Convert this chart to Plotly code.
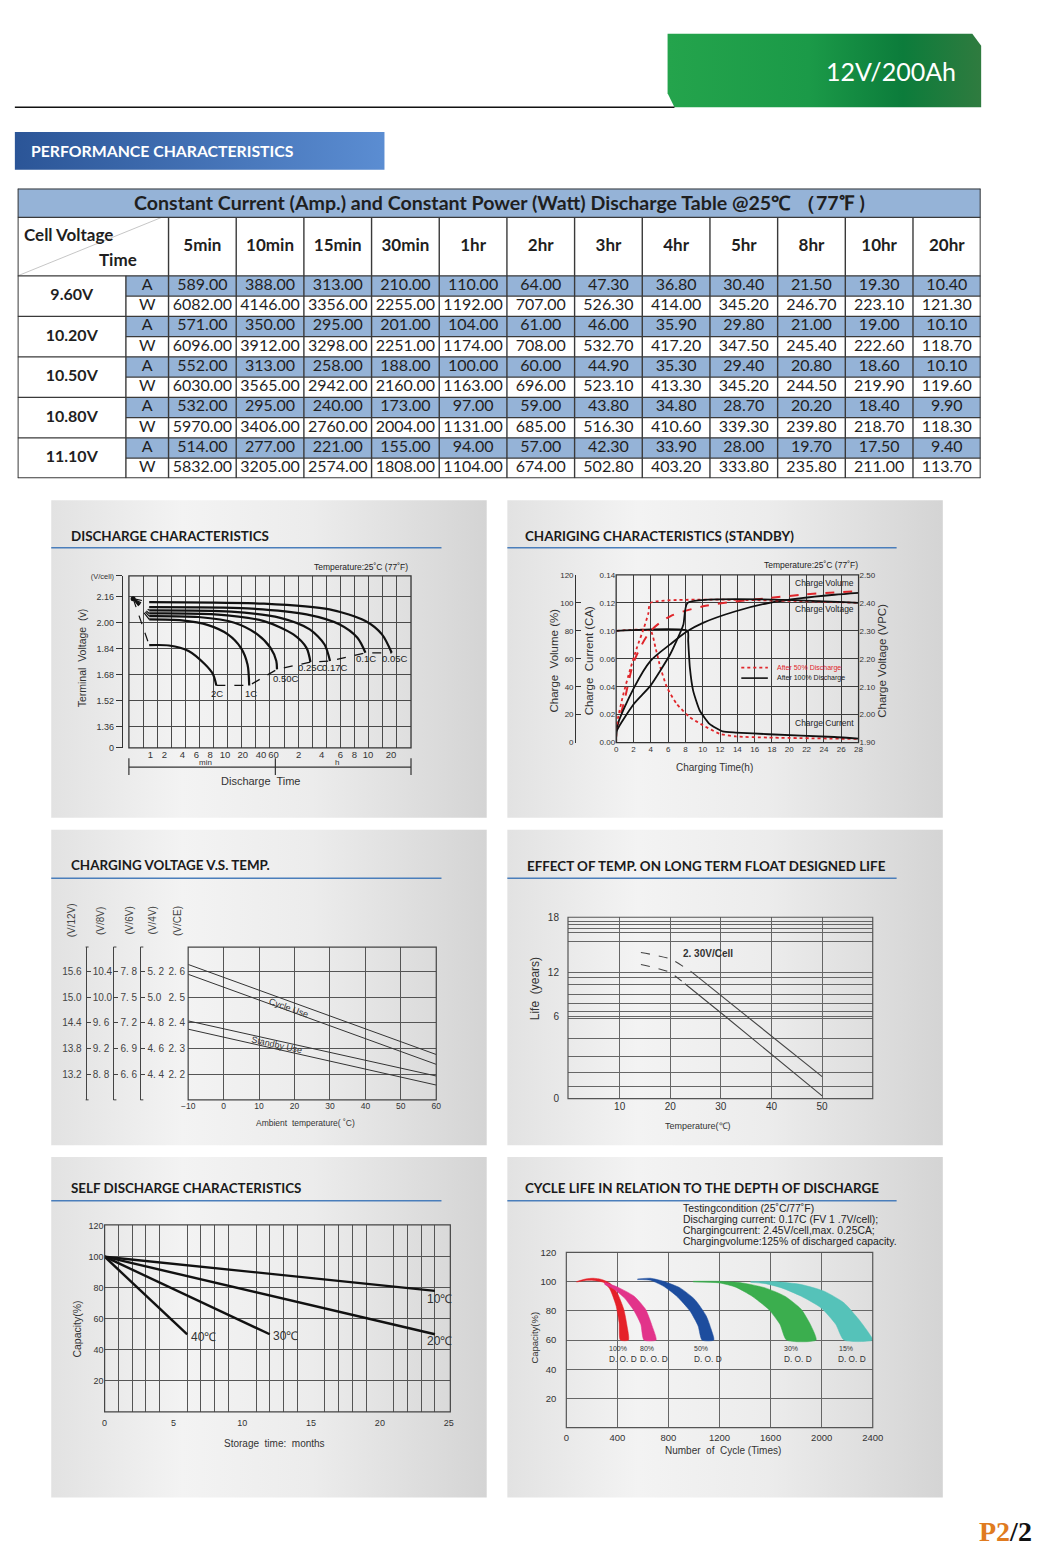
import numpy as np
import plotly.graph_objects as go

W, H = 1059, 1566
OFF = 0
WF, HF = W, H

# ---------------- Table data ----------------
TIME_COLS = ["5min", "10min", "15min", "30min", "1hr", "2hr", "3hr", "4hr", "5hr", "8hr", "10hr", "20hr"]
CELL_VOLTAGES = ["9.60V", "10.20V", "10.50V", "10.80V", "11.10V"]
AMP_9_60 = [589.00, 388.00, 313.00, 210.00, 110.00, 64.00, 47.30, 36.80, 30.40, 21.50, 19.30, 10.40]
WATT_9_60 = [6082.00, 4146.00, 3356.00, 2255.00, 1192.00, 707.00, 526.30, 414.00, 345.20, 246.70, 223.10, 121.30]
AMP_10_20 = [571.00, 350.00, 295.00, 201.00, 104.00, 61.00, 46.00, 35.90, 29.80, 21.00, 19.00, 10.10]
WATT_10_20 = [6096.00, 3912.00, 3298.00, 2251.00, 1174.00, 708.00, 532.70, 417.20, 347.50, 245.40, 222.60, 118.70]
AMP_10_50 = [552.00, 313.00, 258.00, 188.00, 100.00, 60.00, 44.90, 35.30, 29.40, 20.80, 18.60, 10.10]
WATT_10_50 = [6030.00, 3565.00, 2942.00, 2160.00, 1163.00, 696.00, 523.10, 413.30, 345.20, 244.50, 219.90, 119.60]
AMP_10_80 = [532.00, 295.00, 240.00, 173.00, 97.00, 59.00, 43.80, 34.80, 28.70, 20.20, 18.40, 9.90]
WATT_10_80 = [5970.00, 3406.00, 2760.00, 2004.00, 1131.00, 685.00, 516.30, 410.60, 339.30, 239.80, 218.70, 118.30]
AMP_11_10 = [514.00, 277.00, 221.00, 155.00, 94.00, 57.00, 42.30, 33.90, 28.00, 19.70, 17.50, 9.40]
WATT_11_10 = [5832.00, 3205.00, 2574.00, 1808.00, 1104.00, 674.00, 502.80, 403.20, 333.80, 235.80, 211.00, 113.70]

# ---------------- Discharge characteristics ----------------
DIS_TICK_TEXT = ["1", "2", "4", "6", "8", "10", "20", "40", "60", "2", "4", "6", "8", "10", "20"]
DIS_TICK_POS = [1.53, 2.51, 3.79, 4.79, 5.76, 6.81, 8.08, 9.36, 10.25, 12.03, 13.66, 15.0, 15.98, 16.95, 18.58]
DIS_V_TICKS = [1.36, 1.52, 1.68, 1.84, 2.00, 2.16]
DIS_RATES = ["2C", "1C", "0.50C", "0.25C", "0.17C", "0.1C", "0.05C"]
DIS_2C_T = [1.44, 2.84, 4.23, 5.39, 5.97, 6.20]
DIS_2C_V = [1.860, 1.858, 1.824, 1.742, 1.680, 1.612]
DIS_1C_T = [1.44, 3.76, 5.62, 7.02, 7.94, 8.41, 8.53]
DIS_1C_V = [2.018, 2.012, 1.983, 1.926, 1.843, 1.741, 1.612]
DIS_050C_T = [1.44, 4.93, 7.48, 9.11, 10.04, 10.45, 10.50]
DIS_050C_V = [2.039, 2.033, 1.998, 1.926, 1.843, 1.762, 1.711]
DIS_025C_T = [1.44, 6.09, 9.57, 11.66, 12.59, 12.87]
DIS_025C_V = [2.055, 2.049, 2.008, 1.926, 1.843, 1.756]
DIS_017C_T = [1.44, 7.25, 10.73, 12.82, 13.87, 14.26]
DIS_017C_V = [2.074, 2.066, 2.028, 1.957, 1.864, 1.762]
DIS_01C_T = [1.44, 8.41, 12.59, 14.91, 16.20, 16.77]
DIS_01C_V = [2.094, 2.086, 2.049, 1.988, 1.905, 1.813]
DIS_005C_T = [1.44, 9.57, 14.22, 16.77, 17.94, 18.63]
DIS_005C_V = [2.125, 2.115, 2.080, 2.008, 1.926, 1.813]
DIS_ORIGIN = (0.3, 2.146)

# ---------------- Charging characteristics ----------------
CUR_TICK_TEXT = ["0.00", "0.02", "0.04", "0.06", "0.10", "0.12", "0.14"]
CHG_RED_CUR_T = [0, 3.97, 4.54, 5.11, 5.86, 7.0, 8.51, 10.03, 11.92, 13.81, 17.6, 28]
CHG_RED_CUR = [4.0, 4.0, 3.40, 2.69, 1.98, 1.38, 0.91, 0.62, 0.32, 0.22, 0.18, 0.13]
CHG_BLK_CUR_T = [0, 8.25, 8.32, 8.51, 8.89, 9.65, 10.78, 12.3, 13.81, 17.6, 25.2, 28]
CHG_BLK_CUR = [4.0, 4.0, 3.63, 2.69, 1.86, 1.15, 0.67, 0.40, 0.36, 0.30, 0.20, 0.14]
CHG_RED_VOLT_T = [0, 0.1, 0.8, 1.6, 2.4, 3.2, 3.7, 3.97, 28]
CHG_RED_VOLT = [1.90, 1.97, 2.07, 2.16, 2.24, 2.31, 2.36, 2.40, 2.40]
CHG_BLK_VOLT_T = [0, 0.1, 2.08, 3.97, 6.24, 7.76, 8.25, 28]
CHG_BLK_VOLT = [1.90, 1.944, 2.04, 2.104, 2.216, 2.322, 2.40, 2.40]
CHG_RED_VOL_T = [0, 0.95, 2.08, 3.97, 6.24, 10.03, 13.81, 17.6, 21.4, 25.2, 28]
CHG_RED_VOL = [8.8, 30, 58.5, 79.8, 90.4, 97.5, 101, 103.4, 105.8, 107.5, 108.2]
CHG_BLK_VOL_T = [0, 0.08, 2.08, 3.97, 6.24, 8.25, 10.03, 13.81, 17.6, 21.4, 25.2, 28]
CHG_BLK_VOL = [0, 11.1, 39.5, 58.5, 70.3, 79.8, 85.7, 94, 99.9, 103.4, 105.8, 107.2]

# ---------------- Charging voltage vs temperature ----------------
TEMP_C = [-10, 60]
CYCLE_UPPER = [2.626, 2.278]
CYCLE_LOWER = [2.588, 2.240]
STANDBY_UPPER = [2.408, 2.195]
STANDBY_LOWER = [2.376, 2.160]
CE_TICKS = [2.2, 2.3, 2.4, 2.5, 2.6]
CE_TEXT = ["2. 2", "2. 3", "2. 4", "2. 5", "2. 6"]
V12_TEXT = ["13.2", "13.8", "14.4", "15.0", "15.6"]
V8_TEXT = ["8. 8", "9. 2", "9. 6", "10.0", "10.4"]
V6_TEXT = ["6. 6", "6. 9", "7. 2", "7. 5", "7. 8"]
V4_TEXT = ["4. 4", "4. 6", "4. 8", "5.0", "5. 2"]

# ---------------- Float life ----------------
LIFE_TICKS = [0, 6, 12, 18]
LIFE_TICK_POS = [0, 82.7, 126.7, 182.7]
LIFE_GRID_POS = [178.3, 175, 171, 167.7, 158.7, 122, 115, 105, 95.3, 87.3, 81, 61, 42.3, 26.7, 12]
FLOAT_UPPER_T = [14.2, 20.0, 24.2, 35.1, 50.0]
FLOAT_UPPER_L = [14.2, 13.5, 12.1, 6.0, 1.6]
FLOAT_LOWER_T = [14.2, 19.7, 22.9, 30.9, 50.0]
FLOAT_LOWER_L = [12.9, 12.1, 10.5, 6.0, 0.2]

# ---------------- Self discharge ----------------
SD_10C_M = [0, 24]
SD_10C = [100, 78]
SD_20C_M = [0, 24]
SD_20C = [100, 50]
SD_30C_M = [0, 12]
SD_30C = [100, 50]
SD_40C_M = [0, 6]
SD_40C = [100, 50]

# ---------------- Cycle life ----------------
DOD_LABELS = ["100%", "80%", "50%", "30%", "15%"]
RED_X = [80, 150, 210, 275, 340, 400, 450, 475, 487, 423, 413, 388, 340, 290, 210, 150, 80]
RED_Y = [100, 101.8, 102.3, 101.5, 99, 92, 81, 70, 60, 60, 72, 84, 95, 99.5, 100.8, 100.8, 99.7]
PINK_X = [300, 403, 531, 621, 672, 703, 608, 583, 531, 454, 377, 300]
PINK_Y = [99.5, 96.2, 90, 81, 69.7, 60, 60, 70.8, 79.9, 88.9, 94.6, 98]
BLUE_X = [557, 660, 762, 891, 1006, 1096, 1134, 1155, 1063, 1032, 968, 865, 762, 660, 557]
BLUE_Y = [101.8, 102.3, 100.2, 95.7, 87.8, 76.5, 67.5, 60, 60, 69.7, 79.9, 90, 96.8, 100.9, 101.4]
GREEN_X = [993, 1199, 1378, 1558, 1712, 1840, 1917, 1956, 1725, 1673, 1584, 1455, 1327, 1199, 993]
GREEN_Y = [100.2, 100.2, 99.1, 95.7, 90, 81, 69.7, 60, 60, 70.8, 81, 90, 96.2, 99.1, 99.8]
TEAL_X = [1443, 1635, 1840, 2020, 2174, 2290, 2366, 2400, 2174, 2110, 1994, 1840, 1686, 1558, 1443]
TEAL_Y = [100, 100, 98, 93.4, 85.5, 74.2, 65.2, 60, 60, 70.8, 82.1, 90, 95.7, 98.6, 99.5]

# =====================================================================
FONT = "Liberation Sans, Arial, sans-serif"
TFONT = "Lato, 'Open Sans', sans-serif"
TICK_FONT = dict(family=FONT, size=9, color="#333")
GRID_DARK = "#4a4a4a"
BLUE_CELL = "#95B3D7"


def dom_x(a, b):
    return [(a - OFF) / WF, (b - OFF) / WF]


def dom_y(t, b):
    return [1 - (b - OFF) / HF, 1 - (t - OFF) / HF]


def pos_x(a):
    return (a - OFF) / WF


fig = go.Figure()
shapes, annotations = [], []


def txt(x, y, s, size=10, color="#333", family=FONT, xanchor="center", yanchor="middle",
        angle=0, xref="x", yref="y"):
    annotations.append(dict(x=x, y=y, xref=xref, yref=yref, text=s, showarrow=False,
                            font=dict(size=size, color=color, family=family),
                            xanchor=xanchor, yanchor=yanchor, textangle=angle))


def pline(x0, y0, x1, y1, color="#333", width=1.0, dash="solid", xref="x", yref="y", layer="above"):
    shapes.append(dict(type="line", x0=x0, y0=y0, x1=x1, y1=y1, xref=xref, yref=yref,
                       line=dict(color=color, width=width, dash=dash), layer=layer))


def poly_gradient(xs, ys, stops):
    fig.add_trace(go.Scatter(x=xs, y=ys, mode="lines", fill="toself",
                             fillgradient=dict(type="horizontal", colorscale=stops),
                             line=dict(width=0), hoverinfo="skip", showlegend=False,
                             xaxis="x", yaxis="y"))


def frame(xa, ya, width=1.3, color="#333"):
    shapes.append(dict(type="rect", xref=f"{xa} domain", yref=f"{ya} domain", x0=0, x1=1, y0=0, y1=1,
                       line=dict(color=color, width=width), layer="above"))


def line_trace(x, y, xa, ya, color="#111", width=2, dash="solid", shape="spline", smoothing=0.8):
    fig.add_trace(go.Scatter(x=x, y=y, mode="lines", xaxis=xa, yaxis=ya,
                             line=dict(color=color, width=width, dash=dash, shape=shape,
                                       smoothing=smoothing if shape == "spline" else None),
                             hoverinfo="skip", showlegend=False))


def dummy(xa, ya, x, y):
    fig.add_trace(go.Scatter(x=[x], y=[y], mode="markers", marker=dict(opacity=0), xaxis=xa, yaxis=ya,
                             hoverinfo="skip", showlegend=False))


# ---------------- header ----------------
poly_gradient([672, 982, 991, 991, 679, 672, 672], [28, 28, 40, 102, 102, 88, 28],
              [[0, "#24a44c"], [0.45, "#1b9a48"], [0.75, "#0c7c3b"], [1, "#2f7b3f"]])
txt(967, 66, "12V/200Ah", size=25, color="white", family=TFONT, xanchor="right")
pline(8, 102, 679, 102, color="#111", width=1.6)
poly_gradient([8, 384, 384, 8, 8], [127, 127, 165, 165, 127], [[0, "#2b5597"], [1, "#5b8dd2"]])
txt(22, 146, "<b>PERFORMANCE CHARACTERISTICS</b>", size=15.8, color="white", family=TFONT, xanchor="left")

# ---------------- panels ----------------
PANELS = [(45, 498, 488, 818), (509, 498, 952, 818), (45, 830, 488, 1148),
          (509, 830, 952, 1148), (45, 1160, 488, 1503), (509, 1160, 952, 1503)]
for (x0, y0, x1, y1) in PANELS:
    poly_gradient([x0, x1, x1, x0, x0], [y0, y0, y1, y1, y0],
                  [[0, "#e2e2e2"], [0.3, "#f3f3f3"], [0.6, "#ececec"], [1, "#d4d4d4"]])

TITLES = [("DISCHARGE CHARACTERISTICS", 63, 534), ("CHARIGING CHARACTERISTICS (STANDBY)", 525, 534),
          ("CHARGING VOLTAGE V.S. TEMP.", 63, 866), ("EFFECT OF TEMP. ON LONG TERM FLOAT DESIGNED LIFE", 527, 867),
          ("SELF DISCHARGE CHARACTERISTICS", 63, 1191), ("CYCLE LIFE IN RELATION TO THE DEPTH OF DISCHARGE", 525, 1191)]
for s, x, y in TITLES:
    txt(x, y, f"<b>{s}</b>", size=13.4, color="#1a1a1a", family=TFONT, xanchor="left")
for y in (546, 879, 1204):
    pline(45, y, 442, y, color="#4a7ebb", width=1.6)
    pline(509, y, 905, y, color="#4a7ebb", width=1.6)

# ---------------- table ----------------
TROWS = [AMP_9_60, WATT_9_60, AMP_10_20, WATT_10_20, AMP_10_50, WATT_10_50,
         AMP_10_80, WATT_10_80, AMP_11_10, WATT_11_10]
XL, XU, YT, YH = -2.23, -0.63, -4.31, -2.89
shapes.append(dict(type="rect", xref="x2", yref="y2", x0=XL, x1=12, y0=YT, y1=YH,
                   fillcolor=BLUE_CELL, line=dict(width=0), layer="below"))
for r in range(0, 10, 2):
    shapes.append(dict(type="rect", xref="x2", yref="y2", x0=XU, x1=12, y0=r, y1=r + 1,
                       fillcolor=BLUE_CELL, line=dict(width=0), layer="below"))
tx, ty, tt = [], [], []
for r, vals in enumerate(TROWS):
    for c, v in enumerate(vals):
        tx.append(c + 0.5)
        ty.append(r + 0.5)
        tt.append(f"{v:.2f}")
    tx.append((XU + 0) / 2)
    ty.append(r + 0.5)
    tt.append("A" if r % 2 == 0 else "W")
fig.add_trace(go.Scatter(x=tx, y=ty, text=tt, mode="text", xaxis="x2", yaxis="y2",
                         textfont=dict(size=16, family=TFONT, color="#1f1f1f"),
                         hoverinfo="skip", showlegend=False))
fig.add_trace(go.Scatter(x=[(XL + XU) / 2] * 5, y=[2 * i + 1 for i in range(5)],
                         text=[f"<b>{v}</b>" for v in CELL_VOLTAGES], mode="text", xaxis="x2", yaxis="y2",
                         textfont=dict(size=16, family=TFONT, color="#1f1f1f"),
                         hoverinfo="skip", showlegend=False))
fig.add_trace(go.Scatter(x=[c + 0.5 for c in range(12)], y=[YH / 2] * 12,
                         text=[f"<b>{t}</b>" for t in TIME_COLS], mode="text", xaxis="x2", yaxis="y2",
                         textfont=dict(size=17, family=TFONT, color="#1f1f1f"),
                         hoverinfo="skip", showlegend=False))
txt((XL + 12) / 2, (YT + YH) / 2,
    "<b>Constant Current (Amp.) and Constant Power (Watt) Discharge Table @25℃ （77℉ )</b>",
    size=19.6, color="#1f1f1f", family=TFONT, xref="x2", yref="y2")
txt(XL + 0.06, -2.06, "<b>Cell Voltage</b>", size=17, color="#1f1f1f", family=TFONT, xanchor="left",
    xref="x2", yref="y2")
txt(-0.44, -0.83, "<b>Time</b>", size=17, color="#1f1f1f", family=TFONT, xanchor="right",
    xref="x2", yref="y2")
TL = "#3a3a3a"
pline(XL, 0, -0.1, YH, color="#b8b8b8", width=0.8, xref="x2", yref="y2")
for yv in (YT, YH, 0, 10, 2, 4, 6, 8):
    pline(XL, yv, 12, yv, color=TL, width=1.4 if yv not in (YT, 10) else 2, xref="x2", yref="y2")
for yv in (1, 3, 5, 7, 9):
    pline(XU, yv, 12, yv, color=TL, width=1.4, xref="x2", yref="y2")
pline(XL, YT, XL, 10, color=TL, width=2, xref="x2", yref="y2")
pline(12, YT, 12, 10, color=TL, width=2, xref="x2", yref="y2")
pline(XU, 0, XU, 10, color=TL, width=1.4, xref="x2", yref="y2")
for c in range(12):
    pline(c, YH, c, 10, color=TL, width=1.4, xref="x2", yref="y2")

# ---------------- chart 1: discharge ----------------
DIS_CURVES = [(DIS_2C_T, DIS_2C_V), (DIS_1C_T, DIS_1C_V), (DIS_050C_T, DIS_050C_V), (DIS_025C_T, DIS_025C_V),
              (DIS_017C_T, DIS_017C_V), (DIS_01C_T, DIS_01C_V), (DIS_005C_T, DIS_005C_V)]
for t, v in DIS_CURVES:
    line_trace(t, v, "x3", "y3", color="#111", width=2.2)
    line_trace([DIS_ORIGIN[0], t[0]], [DIS_ORIGIN[1], v[0]], "x3", "y3", color="#111", width=1.2,
               dash="dash", shape="linear")
line_trace([t[-1] for t, v in DIS_CURVES], [v[-1] for t, v in DIS_CURVES], "x3", "y3",
           color="#111", width=1.3, dash="dash", shape="linear")
fig.add_trace(go.Scatter(x=[DIS_ORIGIN[0]], y=[DIS_ORIGIN[1]], mode="markers", xaxis="x3", yaxis="y3",
                         marker=dict(size=5, color="#111"), hoverinfo="skip", showlegend=False))
DIS_LABEL_OFFS = [(0.02, -0.05), (0.13, -0.05), (0.6, -0.056), (0.02, -0.034), (0.33, -0.04), (0.03, -0.036),
                  (0.21, -0.036)]
for name, (t, v), (ox, oy) in zip(DIS_RATES, DIS_CURVES, DIS_LABEL_OFFS):
    txt(t[-1] + ox, v[-1] + oy, name, size=9.5, color="#222", xref="x3", yref="y3")
txt(410, 565.5, "Temperature:25˚C (77˚F)", size=8.5, color="#222", xanchor="right")
txt(76.7, 657, "Terminal  Voltage  (v)", size=10.5, color="#333", angle=-90)
pline(124, 767, 411, 767, color="#333", width=1.2)
for xv in (124, 273, 411):
    pline(xv, 758, xv, 775, color="#333", width=1.2)
txt(202, 762.5, "min", size=8, color="#333")
txt(336, 762.5, "h", size=8, color="#333")
txt(258, 781, "Discharge  Time", size=11, color="#333")
frame("x3", "y3")

# ---------------- chart 2: charging ----------------
line_trace(CHG_RED_CUR_T, CHG_RED_CUR, "x4", "y4", color="#e0262b", width=1.8, dash="dot", smoothing=0.5)
line_trace(CHG_BLK_CUR_T, CHG_BLK_CUR, "x4", "y4", color="#111", width=1.8, smoothing=0.5)
line_trace(CHG_RED_VOLT_T, CHG_RED_VOLT, "x4", "y6", color="#e0262b", width=1.8, dash="dot", smoothing=0.5)
line_trace(CHG_BLK_VOLT_T, CHG_BLK_VOLT, "x4", "y6", color="#111", width=1.8, smoothing=0.5)
line_trace(CHG_RED_VOL_T, CHG_RED_VOL, "x4", "y5", color="#e0262b", width=2, dash="dash")
line_trace(CHG_BLK_VOL_T, CHG_BLK_VOL, "x4", "y5", color="#111", width=1.8)
txt(818, 563.5, "Temperature:25˚C (77˚F)", size=8.5, color="#222")
txt(864, 581.5, "Charge Volume", size=8.5, color="#222", xanchor="right")
txt(864, 607.5, "Charge Voltage", size=8.5, color="#222", xanchor="right")
txt(864, 722.5, "Charge Current", size=8.5, color="#222", xanchor="right")
pline(747, 666.7, 774, 666.7, color="#e0262b", width=1.8, dash="dot")
pline(747, 677.3, 774, 677.3, color="#111", width=1.6)
txt(781, 666.7, "After 50% Discharge", size=7, color="#e0262b", xanchor="left")
txt(781, 677.3, "After 100% Discharge", size=7, color="#222", xanchor="left")
txt(556, 660, "Charge  Volume (%)", size=11.5, color="#333", angle=-90)
txt(592.5, 660, "Charge  Current (CA)", size=11.5, color="#333", angle=-90)
txt(890, 660, "Charge Voltage (VPC)", size=11.5, color="#333", angle=-90)
txt(720, 767, "Charging Time(h)", size=10, color="#333")
frame("x4", "y4")

# ---------------- chart 3: charging voltage vs temp ----------------
for series in (CYCLE_UPPER, CYCLE_LOWER, STANDBY_UPPER, STANDBY_LOWER):
    line_trace(TEMP_C, series, "x5", "y7", color="#333", width=1, shape="linear")
for ya in ("y8", "y9", "y10", "y11"):
    dummy("x5", ya, 40, 100)
txt(286.7, 1010, "Cycle Use", size=9, color="#333", angle=19.8)
txt(275, 1047.3, "Standby Use", size=9, color="#333", angle=12.4)
for lab, x in (("(V/12V)", 65.7), ("(V/8V)", 95), ("(V/6V)", 125), ("(V/4V)", 148.3), ("(V/CE)", 173.3)):
    txt(x, 921.7, lab, size=10, color="#444", angle=-90)
for xb in (80, 108.3, 135.7):
    pline(xb, 948.3, xb + 3, 948.3, color="#444", width=1)
    pline(xb, 1102.3, xb + 3, 1102.3, color="#444", width=1)
txt(304, 1125.7, "Ambient  temperature( ˚C)", size=8.5, color="#333")
frame("x5", "y7", width=1.2, color="#444")

# ---------------- chart 4: float life ----------------
up_pos = np.interp(FLOAT_UPPER_L, LIFE_TICKS, LIFE_TICK_POS)
lo_pos = np.interp(FLOAT_LOWER_L, LIFE_TICKS, LIFE_TICK_POS)
line_trace(FLOAT_UPPER_T[:3], up_pos[:3], "x6", "y12", color="#444", width=1.1, dash="dash", smoothing=0.6)
line_trace(FLOAT_UPPER_T[2:], up_pos[2:], "x6", "y12", color="#444", width=1.1, shape="linear")
line_trace(FLOAT_LOWER_T[:3], lo_pos[:3], "x6", "y12", color="#444", width=1.1, dash="dash", smoothing=0.6)
line_trace(FLOAT_LOWER_T[2:], lo_pos[2:], "x6", "y12", color="#444", width=1.1, shape="linear")
txt(713, 955, "<b>2. 30V/Cell</b>", size=10, color="#333")
txt(538, 990, "Life  (years)", size=12, color="#333", angle=-90)
txt(703, 1129, "Temperature(℃)", size=9, color="#333")
frame("x6", "y12", width=1.2, color="#555")

# ---------------- chart 5: self discharge ----------------
for m, c in ((SD_10C_M, SD_10C), (SD_20C_M, SD_20C), (SD_30C_M, SD_30C), (SD_40C_M, SD_40C)):
    line_trace(m, c, "x7", "y13", color="#111", width=2.4, shape="linear")
txt(23.3, 72.8, "10℃", size=12, color="#333", xanchor="left", xref="x7", yref="y13")
txt(23.3, 45.4, "20℃", size=12, color="#333", xanchor="left", xref="x7", yref="y13")
txt(12.1, 49.2, "30℃", size=12, color="#333", xanchor="left", xref="x7", yref="y13")
txt(6.1, 48.0, "40℃", size=12, color="#333", xanchor="left", xref="x7", yref="y13")
txt(71, 1333, "Capacity(%)", size=10.5, color="#333", angle=-90)
txt(272, 1448.3, "Storage  time:  months", size=10, color="#333")
frame("x7", "y13", width=1.2, color="#444")

# ---------------- chart 6: cycle life ----------------
BAND_COLORS = ["#e52129", "#e2338a", "#1d4d9e", "#3bae4e", "#55c2b9"]
for (bx, by), col in zip(((RED_X, RED_Y), (PINK_X, PINK_Y), (BLUE_X, BLUE_Y), (GREEN_X, GREEN_Y),
                          (TEAL_X, TEAL_Y)), BAND_COLORS):
    fig.add_trace(go.Scatter(x=bx, y=by, mode="lines", fill="toself", fillcolor=col, xaxis="x8", yaxis="y14",
                             line=dict(color=col, width=0.5, shape="spline", smoothing=0.6),
                             hoverinfo="skip", showlegend=False))
DOD_PCT_X = [403, 634, 1057, 1758, 2187]
DOD_TXT_X = [441, 690, 1109, 1815, 2238]
for lab, xp, xd in zip(DOD_LABELS, DOD_PCT_X, DOD_TXT_X):
    txt(xp, 53.9, lab, size=7, color="#333", xref="x8", yref="y14")
    txt(xd, 47.1, "D. O. D", size=8.3, color="#333", xref="x8", yref="y14")
COND = ["Testingcondition (25˚C/77˚F)", "Discharging current: 0.17C (FV 1 .7V/cell);",
        "Chargingcurrent: 2.45V/cell,max. 0.25CA;", "Chargingvolume:125% of discharged capacity."]
for i, s in enumerate(COND):
    txt(686, 1211.7 + i * 11.2, s, size=10.4, color="#222", xanchor="left")
txt(536.3, 1341.7, "Capacity(%)", size=9.5, color="#333", angle=-90)
txt(728, 1456, "Number  of  Cycle (Times)", size=10, color="#333")
frame("x8", "y14", width=1.2, color="#555")

# ---------------- page number ----------------
txt(1045, 1537, "<b><span style='color:#e07b20'>P2</span>/2</b>", size=28, color="#111",
    family="Liberation Serif, serif", xanchor="right")


# ---------------- layout ----------------
def ax(**kw):
    base = dict(showgrid=False, zeroline=False, showline=False, ticks="", tickfont=TICK_FONT,
                fixedrange=True, tickangle=0)
    base.update(kw)
    return base


CE_RANGE = [2.1029, 2.6933]
fig.update_layout(
    width=WF, height=HF, margin=dict(l=0, r=0, t=0, b=0), paper_bgcolor="white",
    plot_bgcolor="rgba(0,0,0,0)", showlegend=False, hovermode=False,
    xaxis=dict(domain=[0, 1], range=[OFF, OFF + WF], visible=False, fixedrange=True),
    yaxis=dict(domain=[0, 1], range=[OFF + HF, OFF], visible=False, fixedrange=True),
    # table
    xaxis2=dict(domain=dom_x(10.8, 990.5), range=[XL, 12], visible=False, anchor="y2", fixedrange=True),
    yaxis2=dict(domain=dom_y(184, 476), range=[10, YT], visible=False, anchor="x2", fixedrange=True),
    # chart 1
    xaxis3=ax(domain=dom_x(124, 411), anchor="y3", range=[0, 20], tickmode="array",
              tickvals=DIS_TICK_POS, ticktext=DIS_TICK_TEXT, tickfont=dict(family=FONT, size=9.5, color="#333"),
              minor=dict(tickmode="linear", tick0=0, dtick=1, showgrid=True, gridcolor=GRID_DARK, gridwidth=1)),
    yaxis3=ax(domain=dom_y(574.3, 747.7), anchor="free", position=pos_x(117), range=[1.2275, 2.286],
              tickmode="array", tickvals=[1.2275] + DIS_V_TICKS + [2.286],
              ticktext=["0"] + [f"{v:.2f}" for v in DIS_V_TICKS] + ["<span style='font-size:7.5px'>(V/cell)</span>"],
              ticks="outside", ticklen=6, tickcolor="#333", showline=True, linecolor="#333", linewidth=1.2,
              minor=dict(tickmode="array", tickvals=DIS_V_TICKS, showgrid=True, gridcolor=GRID_DARK, gridwidth=1)),
    # chart 2
    xaxis4=ax(domain=dom_x(619.7, 866.3), anchor="y4", range=[0, 28], tickmode="linear", tick0=0, dtick=2,
              showgrid=True, gridcolor="#3c3c3c", tickfont=dict(family=FONT, size=8, color="#333")),
    yaxis4=ax(domain=dom_y(573.3, 742.3), anchor="x4", range=[0, 6], tickmode="array",
              tickvals=list(range(7)), ticktext=CUR_TICK_TEXT, showgrid=True, gridcolor="#3c3c3c",
              tickfont=dict(family=FONT, size=8, color="#333")),
    yaxis5=ax(overlaying="y4", anchor="free", position=pos_x(578), side="left", range=[0, 120],
              tickmode="linear", tick0=0, dtick=20, ticks="inside", ticklen=5, tickcolor="#333",
              showline=True, linecolor="#333", tickfont=dict(family=FONT, size=8, color="#333")),
    yaxis6=ax(overlaying="y4", anchor="x4", side="right", range=[1.9, 2.5], tickmode="linear", tick0=1.9,
              dtick=0.1, tickformat=".2f", tickfont=dict(family=FONT, size=8, color="#333")),
    # chart 3
    xaxis5=ax(domain=dom_x(184.3, 436.7), anchor="y7", range=[-10, 60], tickmode="linear", tick0=-10, dtick=10,
              showgrid=True, gridcolor="#555", tickfont=dict(family=FONT, size=8.5, color="#333")),
    yaxis7=ax(domain=dom_y(948.3, 1102.3), anchor="x5", range=CE_RANGE, tickmode="array", tickvals=CE_TICKS,
              ticktext=CE_TEXT, showgrid=True, gridcolor="#555", ticklabelstandoff=2,
              tickfont=dict(family=FONT, size=10, color="#444")),
    yaxis8=ax(overlaying="y7", anchor="free", position=pos_x(80), side="left", range=[r * 6 for r in CE_RANGE],
              tickmode="array", tickvals=[v * 6 for v in CE_TICKS], ticktext=V12_TEXT, ticklabelstandoff=4,
              tickfont=dict(family=FONT, size=10, color="#444")),
    yaxis9=ax(overlaying="y7", anchor="free", position=pos_x(80), side="right", range=[r * 4 for r in CE_RANGE],
              tickmode="array", tickvals=[v * 4 for v in CE_TICKS], ticktext=V8_TEXT, ticks="outside",
              ticklen=4, tickcolor="#444", showline=True, linecolor="#444", linewidth=1,
              tickfont=dict(family=FONT, size=10, color="#444")),
    yaxis10=ax(overlaying="y7", anchor="free", position=pos_x(108.3), side="right",
               range=[r * 3 for r in CE_RANGE], tickmode="array", tickvals=[v * 3 for v in CE_TICKS],
               ticktext=V6_TEXT, ticks="outside", ticklen=4, tickcolor="#444", showline=True, linecolor="#444",
               linewidth=1, tickfont=dict(family=FONT, size=10, color="#444")),
    yaxis11=ax(overlaying="y7", anchor="free", position=pos_x(135.7), side="right",
               range=[r * 2 for r in CE_RANGE], tickmode="array", tickvals=[v * 2 for v in CE_TICKS],
               ticktext=V4_TEXT, ticks="outside", ticklen=4, tickcolor="#444", showline=True, linecolor="#444",
               linewidth=1, tickfont=dict(family=FONT, size=10, color="#444")),
    # chart 4
    xaxis6=ax(domain=dom_x(570.7, 880.7), anchor="y12", range=[-0.2, 60], tickmode="array",
              tickvals=[10, 20, 30, 40, 50], showgrid=True, gridcolor="#666",
              tickfont=dict(family=FONT, size=10, color="#333")),
    yaxis12=ax(domain=dom_y(918.3, 1101), anchor="x6", range=[0, 182.7], tickmode="array",
               tickvals=LIFE_TICK_POS, ticktext=[str(v) for v in LIFE_TICKS], showgrid=True, gridcolor="#666",
               ticklabelstandoff=8, tickfont=dict(family=FONT, size=10, color="#333"),
               minor=dict(tickmode="array", tickvals=LIFE_GRID_POS, showgrid=True, gridcolor="#666", gridwidth=1)),
    # chart 5
    xaxis7=ax(domain=dom_x(99.3, 451), anchor="y13", range=[0, 25.12], tickmode="linear", tick0=0, dtick=5,
              tickfont=dict(family=FONT, size=9, color="#333"), ticklabelstandoff=4,
              minor=dict(tickmode="linear", tick0=0, dtick=1, showgrid=True, gridcolor="#555", gridwidth=1)),
    yaxis13=ax(domain=dom_y(1228.3, 1416.7), anchor="x7", range=[0, 120.5], tickmode="array",
               tickvals=[20, 40, 60, 80, 100, 120], showgrid=True, gridcolor="#555",
               tickfont=dict(family=FONT, size=9, color="#333")),
    # chart 6
    xaxis8=ax(domain=dom_x(569, 880.7), anchor="y14", range=[0, 2400], tickmode="linear", tick0=0, dtick=400,
              showgrid=True, gridcolor="#666", ticklabelstandoff=3,
              tickfont=dict(family=FONT, size=9.5, color="#333")),
    yaxis14=ax(domain=dom_y(1256, 1432.7), anchor="x8", range=[0, 120], tickmode="array",
               tickvals=[20, 40, 60, 80, 100, 120], showgrid=True, gridcolor="#666", ticklabelstandoff=9,
               tickfont=dict(family=FONT, size=9.5, color="#333")),
    shapes=shapes, annotations=annotations,
)

fig.write_html("out.html",
               post_script="document.body.style.margin='0';"
                           "document.documentElement.style.overflow='hidden';"
                           "document.body.style.overflow='hidden';")
